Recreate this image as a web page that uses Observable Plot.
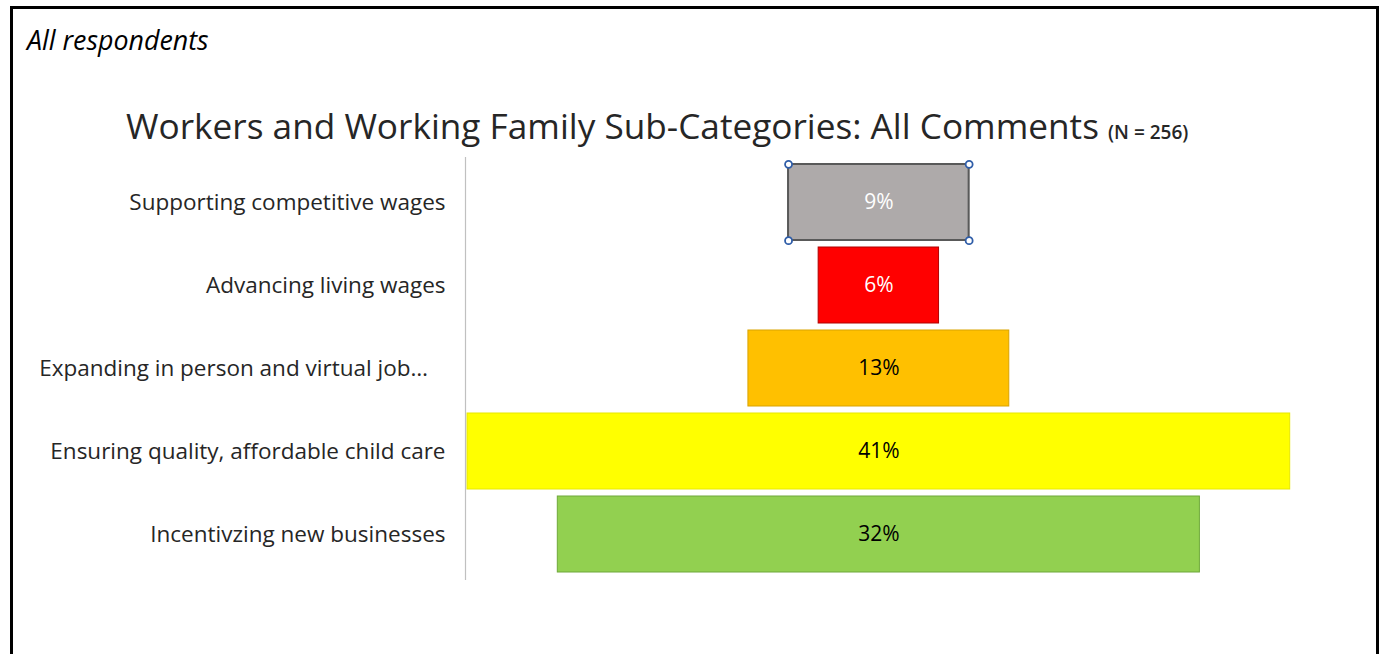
<!DOCTYPE html>
<html><head><meta charset="utf-8">
<script src="https://cdn.jsdelivr.net/npm/d3@7"></script>
<script src="https://cdn.jsdelivr.net/npm/@observablehq/plot@0.6"></script>
<style>
html,body{margin:0;padding:0;background:#fff;overflow:hidden;width:1382px;height:654px;}
#frame{position:absolute;left:10px;top:6px;width:1369px;height:720px;border:3px solid #000;border-bottom:none;box-sizing:border-box;}
#sub{position:absolute;left:27px;top:27px;font:italic 26.8px "Open Sans";color:#000;line-height:1;white-space:nowrap;}
#title{position:absolute;left:126px;top:108px;font:35.2px "Open Sans";color:#262626;line-height:1;white-space:nowrap;}
#title small{font-size:19px;font-weight:600;}
#chart{position:absolute;left:0;top:150px;}
</style></head><body>
<div id="frame"></div>
<div id="sub">All respondents</div>
<div id="title">Workers and Working Family Sub-Categories: All Comments <small>(N = 256)</small></div>
<div id="chart"></div>
<script>
const categories = [
  "Supporting competitive wages",
  "Advancing living wages",
  "Expanding in person and virtual job\u2026\u00a0\u00a0\u00a0",
  "Ensuring quality, affordable child care",
  "Incentivzing new businesses"
];
const values = [9, 6, 13, 41, 32];
const fills = ["#AEAAAA", "#FF0000", "#FFC000", "#FFFF00", "#92D050"];
const strokes = ["#595959", "#B00000", "#D9A300", "#E8E800", "#6FA83A"];
const labelColors = ["#ffffff", "#ffffff", "#000000", "#000000", "#000000"];

const data = categories.map((c, i) => ({category: c, value: values[i], fill: fills[i], stroke: strokes[i], label: labelColors[i]}));

const height = 504, marginTop = 7, marginBottom = 75, pad = 0.08;
const step = (height - marginTop - marginBottom) / (categories.length + pad);
const half = step * (1 - pad) / 2;
const sel = data[0];
const handles = [
  {x: -sel.value / 2, y: sel.category, dy: -half},
  {x: sel.value / 2, y: sel.category, dy: -half},
  {x: -sel.value / 2, y: sel.category, dy: half},
  {x: sel.value / 2, y: sel.category, dy: half}
];

const chart = Plot.plot({
  width: 1382, height, marginLeft: 465, marginRight: 0, marginTop, marginBottom,
  style: {fontFamily: "'Open Sans', sans-serif", background: "transparent"},
  x: {domain: [-20.6, 25.1], axis: null},
  y: {domain: categories, padding: pad, label: null, axis: null},
  color: {type: "identity"},
  marks: [
    Plot.barX(data, {x1: d => -d.value / 2, x2: d => d.value / 2, y: "category", fill: "fill", stroke: "stroke", strokeWidth: 1}),
    Plot.barX([sel], {x1: d => -d.value / 2, x2: d => d.value / 2, y: "category", fill: "none", stroke: "#595959", strokeWidth: 2}),
    Plot.text(data, {x: 0, y: "category", text: d => d.value + "%", fill: "label", fontSize: 21}),
    Plot.axisY({tickSize: 0, tickPadding: 20, fontSize: 22.5, color: "#262626", label: null}),
    Plot.frame({anchor: "left", stroke: "#C0C0C0", strokeWidth: 1.2}),
    ...handles.map(h => Plot.dot([h], {x: "x", y: "y", dy: h.dy, r: 3.5, fill: "#ffffff", stroke: "#2F5DA8", strokeWidth: 1.8}))
  ]
});
document.getElementById("chart").appendChild(chart);
</script>
</body></html>
